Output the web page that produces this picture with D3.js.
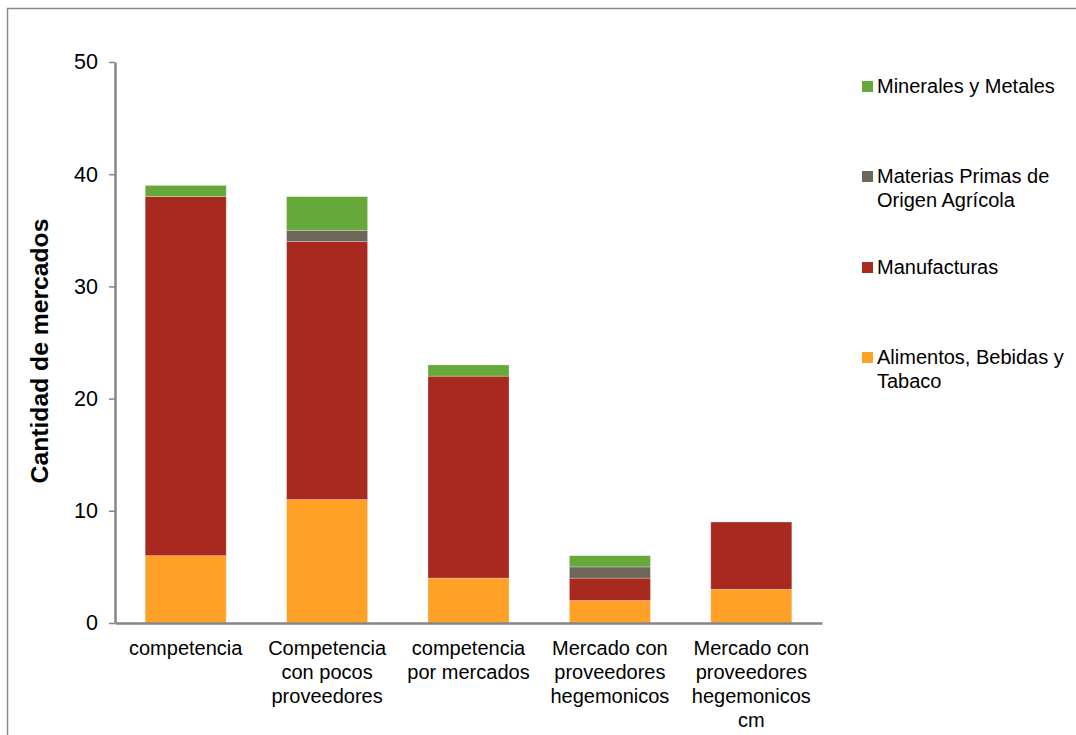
<!DOCTYPE html>
<html>
<head>
<meta charset="utf-8">
<script src="https://cdn.jsdelivr.net/npm/d3@7"></script>
<style>
  html, body { margin: 0; padding: 0; background: #fff; }
  svg { display: block; }
  text { font-family: "Liberation Sans", Arial, sans-serif; fill: #000; }
</style>
</head>
<body>
<svg id="chart" width="1076" height="735"></svg>
<script>
const categories = [
  ["competencia"],
  ["Competencia", "con pocos", "proveedores"],
  ["competencia", "por mercados"],
  ["Mercado con", "proveedores", "hegemonicos"],
  ["Mercado con", "proveedores", "hegemonicos", "cm"]
];
const seriesNames = ["Alimentos, Bebidas y Tabaco", "Manufacturas", "Materias Primas de Origen Agrícola", "Minerales y Metales"];
const alimentos  = [6, 11, 4, 2, 3];
const manufact   = [32, 23, 18, 2, 6];
const materias   = [0, 1, 0, 1, 0];
const minerales  = [1, 3, 1, 1, 0];
const yTicks = [0, 10, 20, 30, 40, 50];
const colors = ["#FFA126", "#A8291E", "#6E665A", "#66A83A"];
const legendLines = [
  ["Minerales y Metales"],
  ["Materias Primas de", "Origen Agrícola"],
  ["Manufacturas"],
  ["Alimentos, Bebidas y", "Tabaco"]
];
const legendColors = [colors[3], colors[2], colors[1], colors[0]];

const svg = d3.select("#chart");

// outer border
svg.append("rect").attr("x", 7.5).attr("y", 8.5).attr("width", 1200).attr("height", 800)
  .attr("fill", "none").attr("stroke", "#8a8a8a").attr("stroke-width", 1.5);

const x0 = 115, x1 = 822, yTop = 62, yBot = 623;
const idx = d3.range(categories.length);
const x = d3.scaleBand().domain(idx).range([x0, x1]).paddingInner(0.427).paddingOuter(0.2135);
const y = d3.scaleLinear().domain([0, 50]).range([yBot, yTop]);

const rows = idx.map(i => ({i, a: alimentos[i], m: manufact[i], p: materias[i], n: minerales[i]}));
const stack = d3.stack().keys(["a", "m", "p", "n"])(rows);

svg.append("g").selectAll("g").data(stack).join("g")
  .attr("fill", (d, k) => colors[k])
  .selectAll("rect").data(d => d.filter(s => s[1] > s[0])).join("rect")
  .attr("x", d => x(d.data.i))
  .attr("width", x.bandwidth())
  .attr("y", d => y(d[1]))
  .attr("height", d => y(d[0]) - y(d[1]))
  .attr("stroke", "rgba(255,255,255,0.35)")
  .attr("stroke-width", 0.75);

// y axis
const yAxis = svg.append("g").attr("transform", `translate(${x0},0)`)
  .call(d3.axisLeft(y).tickValues(yTicks).tickSize(6).tickPadding(11).tickSizeOuter(0));
yAxis.select(".domain").attr("stroke", "#868686").attr("stroke-width", 2.5);
yAxis.selectAll(".tick line").attr("stroke", "#868686").attr("stroke-width", 1.5);
yAxis.selectAll(".tick text").attr("font-size", 21.5).attr("font-family", "Liberation Sans, Arial, sans-serif").attr("fill", "#000");

// x axis
const xAxis = svg.append("g").attr("transform", `translate(0,${yBot})`)
  .call(d3.axisBottom(x).tickSize(0).tickFormat(""));
xAxis.select(".domain").attr("stroke", "#868686").attr("stroke-width", 2.5);

const xl = svg.append("g");
idx.forEach(i => {
  const t = xl.append("text").attr("x", x(i) + x.bandwidth() / 2).attr("y", 655)
    .attr("text-anchor", "middle").attr("font-size", 20);
  categories[i].forEach((line, j) => {
    t.append("tspan").attr("x", x(i) + x.bandwidth() / 2).attr("dy", j === 0 ? 0 : 24).text(line);
  });
});

// y title
svg.append("text").attr("transform", "translate(48,351) rotate(-90)")
  .attr("text-anchor", "middle").attr("font-size", 24.7).attr("font-weight", "bold")
  .text("Cantidad de mercados");

// legend
const legY = [93, 183, 274, 364];
legendLines.forEach((lines, k) => {
  svg.append("rect").attr("x", 862).attr("y", legY[k] - 12).attr("width", 11).attr("height", 11)
    .attr("fill", legendColors[k]);
  const t = svg.append("text").attr("x", 877).attr("y", legY[k]).attr("font-size", 20);
  lines.forEach((line, j) => {
    t.append("tspan").attr("x", 877).attr("dy", j === 0 ? 0 : 24).text(line);
  });
});
</script>
</body>
</html>
